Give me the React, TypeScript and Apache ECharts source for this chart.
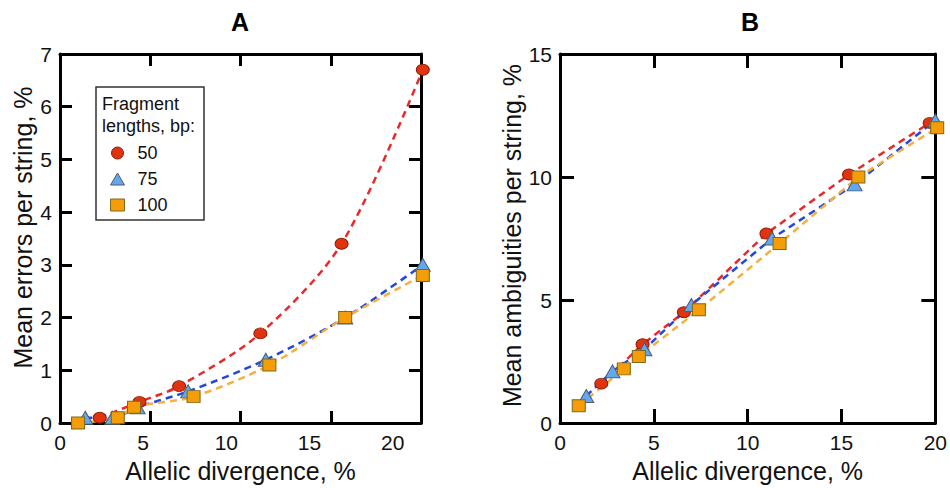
import React, { useEffect, useRef } from "react";
import * as echarts from "echarts";

// ---- data ----
const seriesNames = ["50", "75", "100"];
const legendTitle = ["Fragment", "lengths, bp:"];

// Panel A: mean errors per string, %
const errX50 = [2.2, 4.4, 6.6, 11.1, 15.6, 20.1];
const errY50 = [0.1, 0.4, 0.7, 1.7, 3.4, 6.7];
const errX75 = [1.4, 2.9, 4.3, 7.1, 11.4, 15.8, 20.1];
const errY75 = [0.1, 0.1, 0.3, 0.6, 1.2, 2.0, 3.0];
const errX100 = [1.0, 3.2, 4.1, 7.4, 11.6, 15.8, 20.1];
const errY100 = [0.0, 0.1, 0.3, 0.5, 1.1, 2.0, 2.8];

// Panel B: mean ambiguities per string, %
const ambX50 = [2.2, 4.4, 6.6, 11.0, 15.4, 19.7];
const ambY50 = [1.6, 3.2, 4.5, 7.7, 10.1, 12.2];
const ambX75 = [1.4, 2.8, 4.5, 7.0, 11.3, 15.7, 20.0];
const ambY75 = [1.1, 2.1, 3.0, 4.8, 7.5, 9.7, 12.3];
const ambX100 = [1.0, 3.4, 4.2, 7.4, 11.7, 15.9, 20.1];
const ambY100 = [0.7, 2.2, 2.7, 4.6, 7.3, 10.0, 12.0];

const FONT = "Liberation Sans";
const ELLIPSE = "path://M-1,0A1,1,0,1,0,1,0A1,1,0,1,0,-1,0Z";

const styles = [
  { symbol: ELLIPSE, size: [13, 11], fill: "#e2330f", border: "#8c1c08", line: "#e8292c" },
  { symbol: "triangle", size: [15, 13], fill: "#62a8ee", border: "#4f5d70", line: "#2347de" },
  { symbol: "rect", size: [13, 12], fill: "#f59d06", border: "#7d6a1e", line: "#f4b142" },
];

const zip = (xs: number[], ys: number[]) => xs.map((x, i) => [x, ys[i]]);

export default function App() {
  const ref = useRef<HTMLDivElement>(null);

  useEffect(() => {
    document.body.style.margin = "0";
    const chart = echarts.init(ref.current!, null, { renderer: "svg" });

    const axisLine = { show: true, onZero: false, lineStyle: { color: "#000", width: 3 } };
    const label = { color: "#111", fontSize: 21, fontFamily: FONT };
    const nameStyle = { color: "#111", fontSize: 25, fontFamily: FONT };

    const mkTick = (len: number) => ({
      show: true,
      inside: true,
      length: len,
      lineStyle: { color: "#000", width: 3 },
    });

    const errData = [zip(errX50, errY50), zip(errX75, errY75), zip(errX100, errY100)];
    const ambData = [zip(ambX50, ambY50), zip(ambX75, ambY75), zip(ambX100, ambY100)];

    const mkSeries = (data: number[][][], axisX: number, axisY: number, smooth: number) =>
      data.map((d, i) => ({
        type: "line",
        name: seriesNames[i],
        xAxisIndex: axisX,
        yAxisIndex: axisY,
        data: d,
        smooth,
        clip: false,
        symbol: styles[i].symbol,
        symbolSize: styles[i].size,
        symbolKeepAspect: false,
        itemStyle: { color: styles[i].fill, borderColor: styles[i].border, borderWidth: 1 },
        lineStyle: { color: styles[i].line, width: 2.5, type: [7, 5] },
        emphasis: { disabled: true },
        z: 3,
      }));

    const titleStyle = { fontSize: 25, fontWeight: "bold", fontFamily: FONT, color: "#000" };

    chart.setOption({
      animation: false,
      title: [
        { text: "A", left: 231, top: 9, padding: 0, textStyle: titleStyle },
        { text: "B", left: 741, top: 9, padding: 0, textStyle: titleStyle },
      ],
      grid: [
        { left: 60, top: 54, width: 361, height: 370 },
        { left: 560, top: 54, width: 381, height: 370 },
      ],
      xAxis: [
        // 0: panel A bottom (data scale, ticks)
        { type: "value", gridIndex: 0, position: "bottom", min: 0, max: 20, interval: 5, axisLine, axisTick: mkTick(12), axisLabel: { show: false }, splitLine: { show: false } },
        // 1: panel A bottom labels (placed as printed in the reference)
        {
          type: "value", gridIndex: 0, position: "bottom", min: 0, max: 21.7, interval: 5,
          axisLine: { show: false }, axisTick: { show: false }, splitLine: { show: false },
          axisLabel: { ...label, margin: 9, showMaxLabel: false, formatter: (v: number) => (v % 5 === 0 ? String(v) : "") },
          name: "Allelic divergence, %", nameLocation: "middle", nameGap: 35, nameTextStyle: nameStyle,
        },
        // 2: panel A top mirror
        { type: "value", gridIndex: 0, position: "top", min: 0, max: 20, interval: 5, axisLine, axisTick: mkTick(12), axisLabel: { show: false }, splitLine: { show: false } },
        // 3: panel B bottom
        {
          type: "value", gridIndex: 1, position: "bottom", min: 0, max: 20, interval: 5, axisLine, axisTick: mkTick(14), splitLine: { show: false },
          axisLabel: { ...label, margin: 9 },
          name: "Allelic divergence, %", nameLocation: "middle", nameGap: 35, nameTextStyle: nameStyle,
        },
        // 4: panel B top mirror
        { type: "value", gridIndex: 1, position: "top", min: 0, max: 20, interval: 5, axisLine, axisTick: mkTick(14), axisLabel: { show: false }, splitLine: { show: false } },
      ],
      yAxis: [
        {
          type: "value", gridIndex: 0, position: "left", min: 0, max: 7, interval: 1, axisLine, axisTick: mkTick(12), splitLine: { show: false },
          axisLabel: { ...label, margin: 8 },
          name: "Mean errors per string, %", nameLocation: "middle", nameGap: 25, nameTextStyle: { ...nameStyle, padding: [0, 0, 0, 22] },
        },
        { type: "value", gridIndex: 0, position: "right", min: 0, max: 7, interval: 1, axisLine, axisTick: mkTick(12), axisLabel: { show: false }, splitLine: { show: false } },
        {
          type: "value", gridIndex: 1, position: "left", min: 0, max: 15, interval: 5, axisLine, axisTick: mkTick(14), splitLine: { show: false },
          axisLabel: { ...label, margin: 8 },
          name: "Mean ambiguities per string, %", nameLocation: "middle", nameGap: 30, nameTextStyle: { ...nameStyle, padding: [0, 0, 0, 6] },
        },
        { type: "value", gridIndex: 1, position: "right", min: 0, max: 15, interval: 5, axisLine, axisTick: mkTick(14), axisLabel: { show: false }, splitLine: { show: false } },
      ],
      legend: {
        orient: "vertical",
        left: 110,
        top: 144,
        padding: 0,
        itemWidth: 14,
        itemHeight: 12,
        itemGap: 8,
        selectedMode: false,
        textStyle: { fontSize: 18, fontFamily: FONT, color: "#111", lineHeight: 18, padding: [0, 0, 0, 8] },
        data: seriesNames.map((n, i) => ({
          name: n,
          icon: styles[i].symbol,
          itemStyle: { color: styles[i].fill, borderColor: styles[i].border, borderWidth: 1 },
        })),
      },
      graphic: [
        { type: "rect", shape: { x: 96, y: 87, width: 108, height: 133 }, style: { fill: "none", stroke: "#333", lineWidth: 1.5 }, z: 10 },
        { type: "text", x: 102, y: 104, style: { text: legendTitle[0], fontSize: 18, fontFamily: FONT, fill: "#111", verticalAlign: "middle" }, z: 10 },
        { type: "text", x: 102, y: 126, style: { text: legendTitle[1], fontSize: 18, fontFamily: FONT, fill: "#111", verticalAlign: "middle" }, z: 10 },
      ],
      series: [...mkSeries(errData, 0, 0, 0.3), ...mkSeries(ambData, 3, 2, 0)],
    });

    return () => chart.dispose();
  }, []);

  return <div ref={ref} style={{ width: 950, height: 488 }} />;
}
